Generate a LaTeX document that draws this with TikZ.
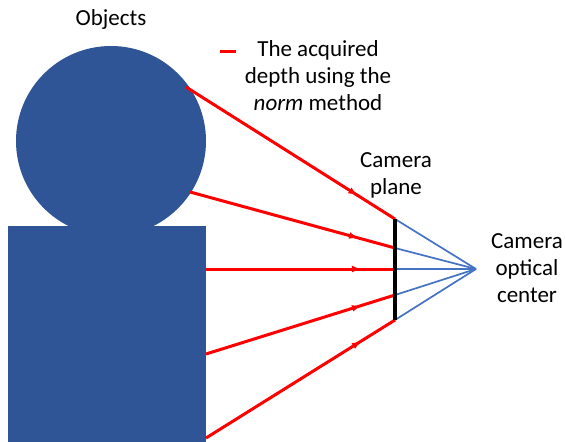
\documentclass[tikz,border=0pt]{standalone}
\usepackage{fontspec}
\setmainfont{Carlito}
\usetikzlibrary{arrows.meta,decorations.markings}
\definecolor{objblue}{HTML}{2F5597}
\definecolor{rayblue}{HTML}{4472C4}
\definecolor{rayred}{HTML}{FF0000}
\tikzset{
  lbl/.style={align=center,font=\fontsize{23}{27}\selectfont,inner sep=0pt},
  redray/.style={rayred,line width=3pt,postaction={decorate},
    decoration={markings,mark=at position 0.82 with {\arrow{Latex[length=9pt,width=7pt]}}}},
  blueray/.style={rayblue,line width=1.7pt},
  objfill/.style={fill=objblue,draw=none}
}
\begin{document}
\begin{tikzpicture}[x=1pt,y=-1pt]
\useasboundingbox (0,0) rectangle (566,442);
% objects
\node[objfill,circle,minimum size=190pt,inner sep=0pt] (head) at (111,141) {};
\node[objfill,rectangle,minimum width=198pt,minimum height=216pt,inner sep=0pt,anchor=north west] (body) at (8,226) {};
% plane and center
\coordinate (p1) at (395,219);
\coordinate (p2) at (395,248);
\coordinate (p3) at (395,269);
\coordinate (p4) at (395,295);
\coordinate (p5) at (395,320);
\coordinate (oc) at (476,269);
% start points of rays
\coordinate (s1) at (186,87);
\coordinate (s2) at (190,192);
\coordinate (s3) at (206,269);
\coordinate (s4) at (206,354);
\coordinate (s5) at (206,438);
% blue rays
\foreach \i in {1,...,5} \draw[blueray] (p\i) -- (oc);
% red rays
\foreach \i in {1,...,5} \draw[redray] (s\i) -- (p\i);
% camera plane
\draw[line width=4pt,black] (p1) -- (p5);
% labels
\node[lbl] (objlbl) at (111,19) {Objects};
\node[lbl] (planelbl) at (396,175) {Camera\\plane};
\node[lbl] (oclbl) at (527,268) {Camera\\optical\\center};
\coordinate (lg1) at (220,51);
\coordinate (lg2) at (236,51);
\draw[rayred,line width=3pt] (lg1) -- (lg2);
\node[lbl] (leg) at (318,76) {The acquired\\depth using the\\\textit{norm} method};
\end{tikzpicture}
\end{document}
